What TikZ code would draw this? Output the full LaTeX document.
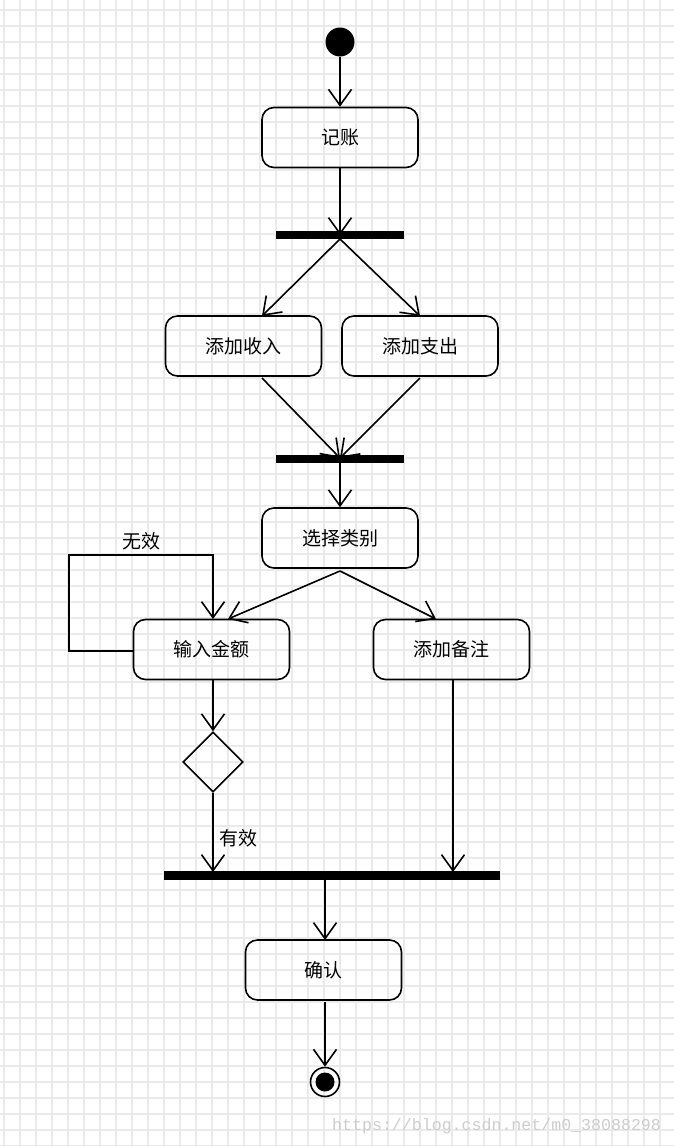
\documentclass[tikz,border=0pt]{standalone}
\usepackage{fontspec}
\newfontfamily\cjk{Noto Sans CJK SC}
\newfontfamily\wmfont{Liberation Mono}
\usetikzlibrary{arrows.meta,shapes.geometric}
\definecolor{gridc}{RGB}{234,234,234}
\definecolor{wmc}{RGB}{205,205,205}
\begin{document}
\begin{tikzpicture}[x=1pt,y=-1pt,
  act/.style={draw, line width=1.6pt, rounded corners=12pt, minimum width=156pt, minimum height=60pt, font=\cjk\fontsize{19}{21}\selectfont, inner sep=0pt},
  bar/.style={fill=black, draw=none, inner sep=0pt, minimum height=8pt},
  flow/.style={line width=1.6pt, -{Straight Barb[length=16pt,width=23pt,line width=1.6pt]}},
  lbl/.style={font=\cjk\fontsize{19}{21}\selectfont, inner sep=0pt}]
\fill[white] (0,0) rectangle (674,1146);
\useasboundingbox (0,0) rectangle (674,1146);
% grid
\foreach \x in {4,20,...,674} \draw[gridc, line width=2pt] (\x,0) -- (\x,1146);
\foreach \y in {10,26,...,1146} \draw[gridc, line width=2pt] (0,\y) -- (674,\y);
% nodes
\node[circle, fill=black, minimum size=29pt, inner sep=0pt] (start) at (340,42) {};
\node[act] (jz) at (340,137.5) {记账};
\node[bar, minimum width=128pt] (fork1) at (340,235) {};
\node[act] (sr) at (243.5,346) {添加收入};
\node[act] (zc) at (420,346) {添加支出};
\node[bar, minimum width=128pt] (join1) at (340,459) {};
\node[act] (xz) at (340,538) {选择类别};
\node[act] (je) at (211.5,649.5) {输入金额};
\node[act] (bz) at (451.5,649.5) {添加备注};
\node[diamond, draw, line width=1.6pt, minimum width=60pt, minimum height=60pt, inner sep=0pt] (dec) at (213,762) {};
\node[bar, minimum width=336pt, minimum height=9pt] (join2) at (332,875.5) {};
\node[act] (qr) at (323.5,970) {确认};
\node[circle, draw, line width=1.6pt, minimum size=29pt, inner sep=0pt] (end) at (325,1082) {};
\node[circle, fill=black, minimum size=19pt, inner sep=0pt] (endin) at (325,1082) {};
% helper coordinates
\coordinate (f1b) at (340,239);
\coordinate (srIn) at (262,316);
\coordinate (zcIn) at (420,316);
\coordinate (srOut) at (262,378);
\coordinate (zcOut) at (420,378);
\coordinate (j1t) at (340,458);
\coordinate (xzOut) at (340,571);
\coordinate (jeIn) at (228,619);
\coordinate (bzIn) at (436,619);
\coordinate (loopA) at (69,651);
\coordinate (loopB) at (69,555);
\coordinate (loopC) at (213,555);
\coordinate (loopIn) at (213,619);
\coordinate (jeOut) at (213,680);
\coordinate (j2a) at (213,872);
\coordinate (bzOut) at (453,680);
\coordinate (j2b) at (453,872);
\coordinate (j2out) at (325,880);
\coordinate (qrIn) at (325,940);
\coordinate (qrOut) at (325,1002);
% connectors
\draw[flow] (start) -- (jz.north);
\draw[flow] (jz.south) -- (fork1.center);
\draw[flow] (f1b) -- (srIn);
\draw[flow] (f1b) -- (zcIn);
\draw[flow] (srOut) -- (j1t);
\draw[flow] (zcOut) -- (j1t);
\draw[flow] (join1.south) -- (xz.north);
\draw[flow] (xzOut) -- (jeIn);
\draw[flow] (xzOut) -- (bzIn);
\draw[flow] (je.west |- loopA) -- (loopA) -- (loopB) -- (loopC) -- (loopIn);
\draw[flow] (jeOut) -- (dec.north);
\draw[flow] (dec.south) -- (j2a);
\draw[flow] (bzOut) -- (j2b);
\draw[flow] (j2out) -- (qrIn);
\draw[flow] (qrOut) -- (end.north);
% labels
\node[lbl] (wx) at (141,541) {无效};
\node[lbl] (yx) at (238,838) {有效};
\node[anchor=west, inner sep=0pt, text=wmc, font=\wmfont\fontsize{16.6}{18}\selectfont] (wm) at (332,1126) {https://blog.csdn.net/m0\_38088298};
\end{tikzpicture}
\end{document}
